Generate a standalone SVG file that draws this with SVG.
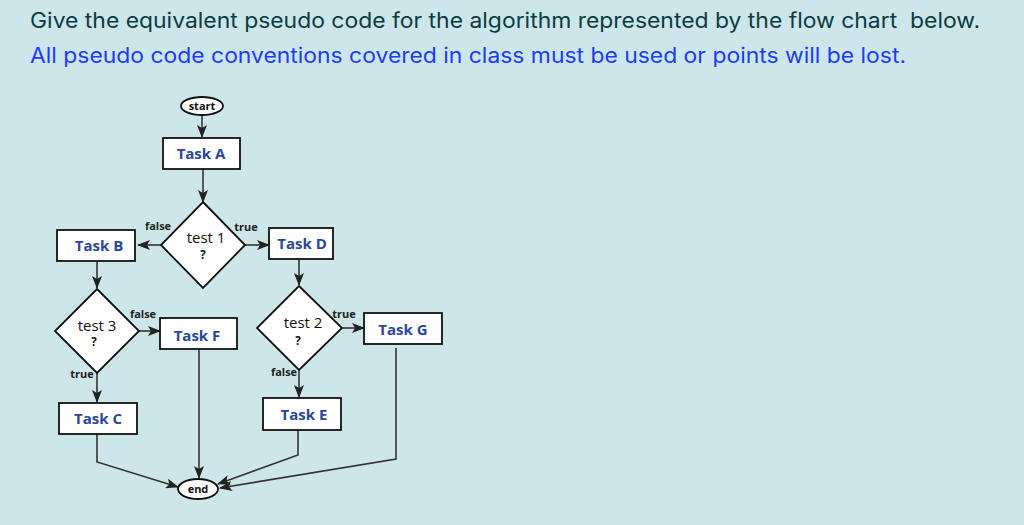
<svg xmlns="http://www.w3.org/2000/svg" width="1024" height="525" viewBox="0 0 1024 525">
<defs>
<marker id="ah" markerWidth="13" markerHeight="10" refX="12" refY="5" orient="auto" markerUnits="userSpaceOnUse">
<path d="M0,0 L13,5 L0,10 L3,5 Z" fill="#222"/>
</marker>
<style>
.box{fill:#fff;stroke:#111;stroke-width:1.8}
.task{font-family:"Open Sans","Liberation Sans",sans-serif;font-weight:700;font-size:15px;fill:#2b469c;text-anchor:middle}
.dtxt{font-family:"Open Sans","Liberation Sans",sans-serif;font-size:15px;font-weight:500;fill:#111;text-anchor:middle}
.q{font-family:"Open Sans","Liberation Sans",sans-serif;font-size:11.5px;font-weight:700;fill:#111;text-anchor:middle}
.lbl{font-family:"Open Sans","Liberation Sans",sans-serif;font-weight:700;font-size:11px;fill:#222;text-anchor:middle}
.term{font-family:"Open Sans","Liberation Sans",sans-serif;font-weight:700;font-size:11px;fill:#111;text-anchor:middle}
.conn{fill:none;stroke:#333;stroke-width:1.6;marker-end:url(#ah)}
.t{font-family:Inter,"Liberation Sans",sans-serif;font-size:21px}
</style>
</defs>
<rect width="1024" height="525" fill="#cde6ea"/>
<text class="t" x="30" y="28" fill="#0c3b43" xml:space="preserve" textLength="950" lengthAdjust="spacingAndGlyphs">Give the equivalent pseudo code for the algorithm represented by the flow chart  below.</text>
<text class="t" x="30" y="63" fill="#1b3dfb" textLength="876" lengthAdjust="spacingAndGlyphs">All pseudo code conventions covered in class must be used or points will be lost.</text>

<g id="connectors">
<line class="conn" x1="202" y1="116" x2="202" y2="137"/>
<line class="conn" x1="203" y1="169" x2="203" y2="202"/>
<line class="conn" x1="161" y1="245" x2="138" y2="245"/>
<line class="conn" x1="245" y1="245" x2="269" y2="245"/>
<line class="conn" x1="97" y1="262" x2="97" y2="288"/>
<line class="conn" x1="299" y1="259" x2="299" y2="285"/>
<line class="conn" x1="139" y1="331" x2="160" y2="331"/>
<line class="conn" x1="342" y1="328" x2="364" y2="328"/>
<line class="conn" x1="97" y1="373" x2="97" y2="402"/>
<line class="conn" x1="299" y1="370" x2="299" y2="397"/>
<polyline class="conn" points="97,434 97,462 178,487"/>
<line class="conn" x1="199" y1="349" x2="199" y2="478"/>
<polyline class="conn" points="298,430 298,455 218,484"/>
<polyline class="conn" points="396,348 396,459 220,488"/>
<text class="lbl" x="158" y="230">false</text>
<text class="lbl" x="246" y="231">true</text>
<text class="lbl" x="143" y="318">false</text>
<text class="lbl" x="82" y="378">true</text>
<text class="lbl" x="344" y="318">true</text>
<text class="lbl" x="284" y="376">false</text>
</g>

<g id="start"><ellipse class="box" cx="202" cy="106" rx="21" ry="9"/><text class="term" x="202" y="110">start</text></g>
<g id="taskA"><rect class="box" x="163" y="138" width="77" height="31"/><text class="task" x="201" y="159">Task A</text></g>
<g id="test1"><polygon class="box" points="203,202 245,245 203,288 161,245"/><text class="dtxt" x="206" y="243">test 1</text><text class="q" x="203" y="259">?</text></g>
<g id="taskB"><rect class="box" x="57" y="230" width="78" height="31"/><text class="task" x="99" y="251">Task B</text></g>
<g id="taskD"><rect class="box" x="269" y="228" width="64" height="31"/><text class="task" x="302" y="249">Task D</text></g>
<g id="test3"><polygon class="box" points="97,289 139,331 97,373 55,331"/><text class="dtxt" x="97" y="331">test 3</text><text class="q" x="94" y="346">?</text></g>
<g id="taskF"><rect class="box" x="160" y="318" width="77" height="31"/><text class="task" x="197" y="341">Task F</text></g>
<g id="test2"><polygon class="box" points="299,286 342,328 299,370 257,328"/><text class="dtxt" x="303" y="328">test 2</text><text class="q" x="298" y="345">?</text></g>
<g id="taskG"><rect class="box" x="364" y="313" width="78" height="31"/><text class="task" x="403" y="335">Task G</text></g>
<g id="taskC"><rect class="box" x="59" y="403" width="78" height="31"/><text class="task" x="98" y="424">Task C</text></g>
<g id="taskE"><rect class="box" x="263" y="398" width="78" height="32"/><text class="task" x="304" y="420">Task E</text></g>
<g id="end"><ellipse class="box" cx="198" cy="489" rx="20" ry="10"/><text class="term" x="198" y="493">end</text></g>
</svg>
